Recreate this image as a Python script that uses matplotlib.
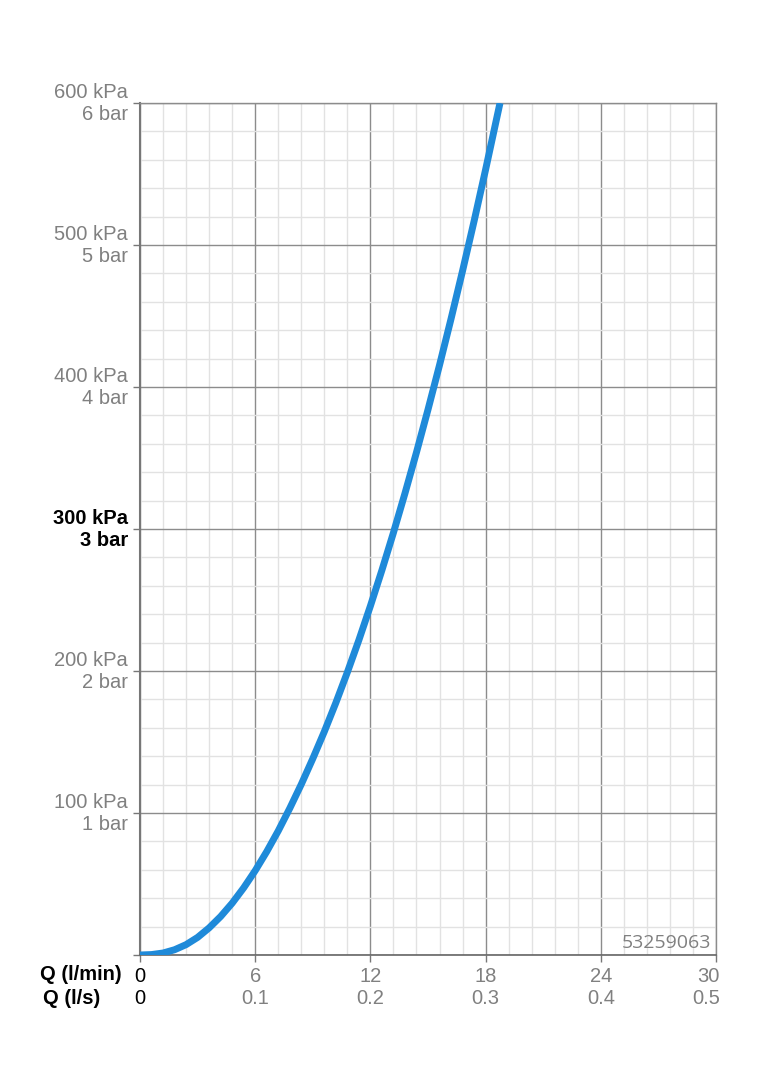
import numpy as np
import matplotlib.pyplot as plt
import matplotlib.transforms as mtransforms
from matplotlib.ticker import MultipleLocator

plt.rcParams['font.family'] = ['Liberation Sans', 'DejaVu Sans']

# curve (Q in l/min, p in kPa)
flow_lpm = [0, 0.6, 1.2, 1.8, 2.4, 3.0, 3.6, 4.2, 4.8, 5.4, 6.0, 6.6, 7.2,
            7.8, 8.4, 9.0, 9.6, 10.2, 10.8, 11.4, 12.0, 12.6, 13.2, 13.8,
            14.4, 15.0, 15.6, 16.2, 16.8, 17.4, 18.0, 18.75]
pressure_kpa = [0, 0.3, 1.4, 3.7, 7.3, 12.4, 19.1, 27.1, 36.5, 47.3, 59.4,
                72.8, 87.4, 103.3, 120.2, 138.3, 157.3, 177.6, 199.1, 221.8,
                245.8, 271.0, 297.4, 325.1, 354.0, 384.1, 415.4, 448.0,
                481.8, 516.8, 553.1, 600.0]

x_major = [0, 6, 12, 18, 24, 30]
x_labels_lpm = ['0', '6', '12', '18', '24', '30']
x_labels_ls = ['0', '0.1', '0.2', '0.3', '0.4', '0.5']
y_major = [0, 100, 200, 300, 400, 500, 600]
y_labels = ['', '100 kPa\n1 bar', '200 kPa\n2 bar', '300 kPa\n3 bar',
            '400 kPa\n4 bar', '500 kPa\n5 bar', '600 kPa\n6 bar']
model_no = '53259063'

gray_txt = '#808080'
fs = 14.5

fig = plt.figure(figsize=(7.64, 10.8), dpi=100)
ax = fig.add_axes([140 / 764, 125 / 1080, 576 / 764, 852 / 1080])

ax.set_xlim(0, 30)
ax.set_ylim(0, 600)

# grids
ax.xaxis.set_major_locator(MultipleLocator(6))
ax.xaxis.set_minor_locator(MultipleLocator(1.2))
ax.yaxis.set_major_locator(MultipleLocator(100))
ax.yaxis.set_minor_locator(MultipleLocator(20))
ax.grid(which='minor', color='#e2e2e2', linewidth=1.0, zorder=0)
ax.grid(which='major', color='#8c8c8c', linewidth=1.0, zorder=1)
ax.set_axisbelow(True)

for s in ax.spines.values():
    s.set_color('#8c8c8c')
    s.set_linewidth(1.0)
ax.spines['left'].set_color('#777777')
ax.spines['left'].set_linewidth(1.5)
ax.spines['bottom'].set_color('#666666')
ax.spines['bottom'].set_linewidth(1.2)

ax.tick_params(which='minor', length=0)
ax.tick_params(which='major', length=5, width=1, color='#777777')

# y tick labels
ax.set_yticks(y_major)
ax.set_yticklabels(y_labels, fontsize=fs, color=gray_txt,
                   ha='right', va='center', linespacing=1.2)
ax.tick_params(axis='y', pad=3.5)
for lab in ax.get_yticklabels():
    if lab.get_text().startswith('300'):
        lab.set_color('black')
        lab.set_fontweight('bold')

# x tick labels (two rows)
ax.set_xticks(x_major)
ax.set_xticklabels([a + '\n' + b for a, b in zip(x_labels_lpm, x_labels_ls)],
                   fontsize=fs, color=gray_txt, linespacing=1.15)
ax.tick_params(axis='x', pad=4)
xlabs = ax.get_xticklabels()
xlabs[0].set_color('black')
# last label sits right-aligned just past the tick
xlabs[-1].set_horizontalalignment('right')
xlabs[-1].set_multialignment('right')
xlabs[-1].set_transform(xlabs[-1].get_transform() +
                        mtransforms.ScaledTranslation(4 / 100, 0, fig.dpi_scale_trans))

fig.text(122 / 764, 1 - 975 / 1080, 'Q (l/min)', ha='right', va='center',
         fontsize=fs, fontweight='bold')
fig.text(100 / 764, 1 - 998 / 1080, 'Q (l/s)', ha='right', va='center',
         fontsize=fs, fontweight='bold')

ax.plot(flow_lpm, pressure_kpa, color='#1f8ad9', linewidth=5.0,
        solid_capstyle='butt', solid_joinstyle='round', zorder=3, clip_on=True)

ax.text(0.991, 0.003, model_no, transform=ax.transAxes, ha='right',
        va='bottom', fontsize=14, color='#808080',
        family=['Open Sans', 'DejaVu Sans'])

fig.savefig('out.png', dpi=100)
